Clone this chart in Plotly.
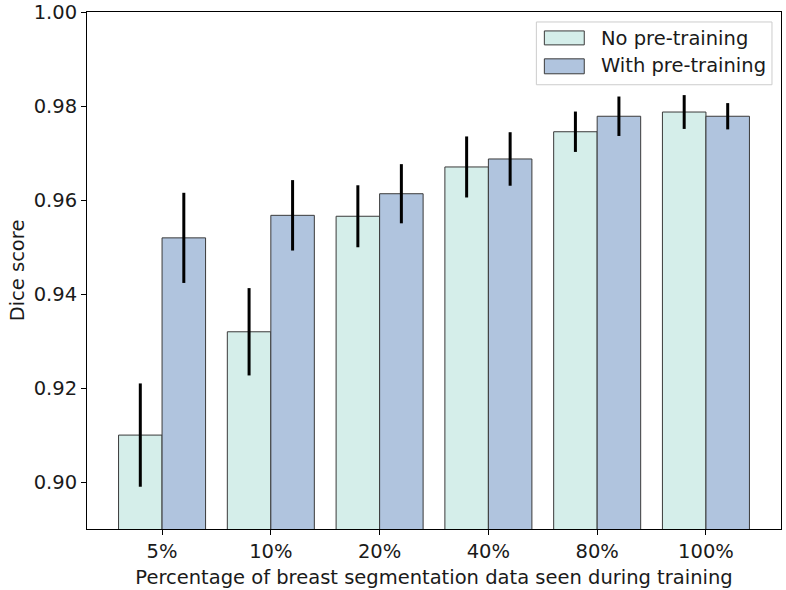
import plotly.graph_objects as go

categories = ["5%", "10%", "20%", "40%", "80%", "100%"]
no_pre = [0.910, 0.932, 0.9566, 0.9671, 0.9746, 0.9788]
no_pre_err = [0.011, 0.0093, 0.0066, 0.0065, 0.0043, 0.0036]
with_pre = [0.952, 0.9568, 0.9614, 0.9688, 0.9779, 0.9779]
with_pre_err = [0.0096, 0.0075, 0.0063, 0.0057, 0.0042, 0.0028]
y_ticks = [0.90, 0.92, 0.94, 0.96, 0.98, 1.00]
series_names = ["No pre-training", "With pre-training"]
series_colors = ["#d5eeea", "#b0c4de"]
edge_color = "#3a3a3a"

font = "DejaVu Sans"
fs = 19.5

fig = go.Figure()
for name, vals, errs, col in zip(series_names, [no_pre, with_pre], [no_pre_err, with_pre_err], series_colors):
    fig.add_trace(go.Bar(
        x=categories, y=vals, name=name, showlegend=False,
        marker=dict(color=col, line=dict(color=edge_color, width=1)),
        error_y=dict(type="data", array=errs, color="black", thickness=3, width=0),
    ))

# custom legend (matplotlib-like, in paper coordinates)
shapes = [dict(type="rect", xref="paper", yref="paper", x0=0.6475, x1=0.987, y0=0.8593, y1=0.9807,
               line=dict(color="#cccccc", width=1), fillcolor="rgba(255,255,255,0.8)", layer="above")]
annotations = []
patch_y = [(0.9364, 0.9634), (0.8805, 0.9094)]
text_y = [0.948, 0.896]
for (y0, y1), ty, name, col in zip(patch_y, text_y, series_names, series_colors):
    shapes.append(dict(type="rect", xref="paper", yref="paper", x0=0.659, x1=0.7165, y0=y0, y1=y1,
                       line=dict(color=edge_color, width=1), fillcolor=col, layer="above"))
    annotations.append(dict(xref="paper", yref="paper", x=0.738, y=ty, xanchor="left", yanchor="middle",
                            text=name, showarrow=False, font=dict(family=font, size=fs, color="#1a1a1a")))

fig.update_layout(
    width=786, height=590,
    margin=dict(l=87, r=5, t=12, b=61),
    paper_bgcolor="white", plot_bgcolor="white",
    barmode="group", bargap=0.2, bargroupgap=0,
    font=dict(family=font, size=fs, color="#1a1a1a"),
    shapes=shapes, annotations=annotations,
    xaxis=dict(
        range=[-0.69, 5.69], automargin=False,
        showline=True, linecolor="black", linewidth=1, mirror=True,
        ticks="outside", ticklen=5, tickcolor="black",
        title=dict(text="Percentage of breast segmentation data seen during training", standoff=7,
                   font=dict(size=fs)),
        tickfont=dict(size=fs),
    ),
    yaxis=dict(
        range=[0.89, 1.0001], automargin=False,
        tickvals=y_ticks, tickformat=".2f",
        ticklabeloverflow="allow",
        showline=True, linecolor="black", linewidth=1, mirror=True,
        ticks="outside", ticklen=5, tickcolor="black",
        showgrid=False, zeroline=False,
        title=dict(text="Dice score", standoff=3, font=dict(size=fs)),
        tickfont=dict(size=fs),
    ),
)

fig.write_html("out.html", config={"displayModeBar": False},
               post_script="document.body.style.margin='0';")
